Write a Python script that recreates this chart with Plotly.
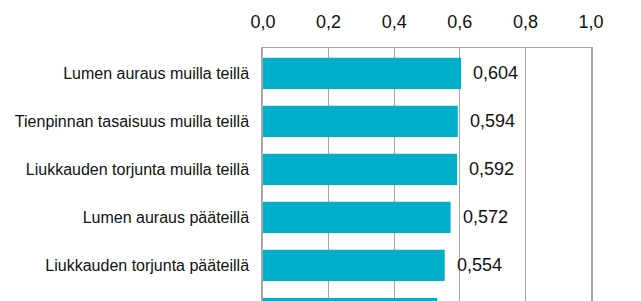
import plotly.graph_objects as go

categories = [
    "Lumen auraus muilla teillä",
    "Tienpinnan tasaisuus muilla teillä",
    "Liukkauden torjunta muilla teillä",
    "Lumen auraus pääteillä",
    "Liukkauden torjunta pääteillä",
    "Tienpinnan tasaisuus pääteillä",
]
values = [0.604, 0.594, 0.592, 0.572, 0.554, 0.531]
tick_vals = [0.0, 0.2, 0.4, 0.6, 0.8, 1.0]

bar_color = "#00AFC9"
grid_color = "#A6A6A6"
font_family = "Liberation Sans, Arial, sans-serif"

fig = go.Figure()
fig.add_trace(go.Bar(
    x=values, y=categories, orientation="h",
    marker=dict(color=bar_color, line=dict(width=0)),
    width=0.65,
))

for c, v in zip(categories, values):
    fig.add_annotation(
        x=v, y=c, xref="x", yref="y",
        text=f"{v:.3f}".replace(".", ","),
        showarrow=False, xanchor="left", xshift=10,
        font=dict(size=18, color="#111111", family=font_family),
    )

fig.update_layout(
    width=641, height=301,
    margin=dict(l=263, r=50, t=48, b=0),
    paper_bgcolor="white", plot_bgcolor="white",
    separators=", ",
    showlegend=False,
    bargap=0.35,
)
fig.update_xaxes(
    side="top", range=[0, 1.0], tickvals=tick_vals, tickformat=".1f",
    showgrid=True, gridcolor=grid_color, gridwidth=1,
    showline=True, linecolor=grid_color, linewidth=1, mirror=False,
    zeroline=False,
    ticks="", ticklabelstandoff=12,
    tickfont=dict(size=18, color="#111111", family=font_family),
)
fig.update_yaxes(
    categoryorder="array", categoryarray=categories,
    range=[4.74, -0.53], autorange=False,
    showgrid=False, showline=True, linecolor=grid_color, linewidth=1.5,
    mirror=True, ticks="", ticklabelstandoff=9,
    automargin=False,
    tickfont=dict(size=16, color="#111111", family=font_family),
)

fig.write_html("out.html")
